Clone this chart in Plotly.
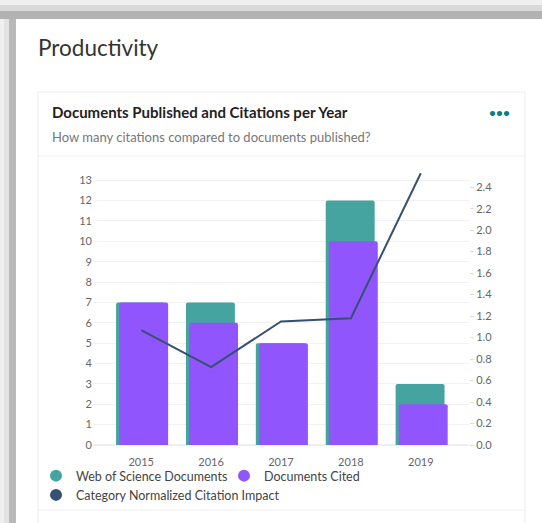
import plotly.graph_objects as go

# ---- data ----
years = ["2015", "2016", "2017", "2018", "2019"]
wos_documents = [7, 7, 5, 12, 3]
documents_cited = [7, 6, 5, 10, 2]
cnci = [1.07, 0.725, 1.15, 1.18, 2.53]

left_ticks = list(range(0, 14))
right_ticks = [round(i * 0.2, 1) for i in range(13)]

TEAL = "#45a3a0"
PURPLE = "#9155fd"
NAVY = "#34526f"

W, H = 542, 523
ML, MR, MT, MB = 93, 73, 170, 78
PW, PH = W - ML - MR, H - MT - MB


def px(x):
    return (x - ML) / PW


def py(y):
    return (H - MB - y) / PH


FONT = "Lato"

fig = go.Figure()

fig.add_trace(go.Bar(
    x=years, y=wos_documents, name="Web of Science Documents",
    marker=dict(color=TEAL, cornerradius=2, line=dict(width=0)),
    width=0.7, offset=-0.36, showlegend=False, yaxis="y",
))
fig.add_trace(go.Bar(
    x=years, y=documents_cited, name="Documents Cited",
    marker=dict(color=PURPLE, cornerradius=2, line=dict(width=0)),
    width=0.7, offset=-0.315, showlegend=False, yaxis="y",
))
fig.add_trace(go.Scatter(
    x=years, y=cnci, name="Category Normalized Citation Impact",
    mode="lines", line=dict(color=NAVY, width=2), showlegend=False, yaxis="y2",
))

# legend-only entries (circle markers)
for name, col in [("Web of Science Documents", TEAL), ("Documents Cited", PURPLE),
                  ("Category Normalized Citation Impact", NAVY)]:
    fig.add_trace(go.Scatter(
        x=[None], y=[None], name=name, mode="markers",
        marker=dict(color=col, size=11, symbol="circle"), yaxis="y",
    ))

shapes = []
# outer gray frame (shadow)
for (x0, x1, c) in [(0, 4, "#efefef"), (4, 9, "#e3e3e3"), (9, 16, "#b9b9b9")]:
    shapes.append(dict(type="rect", xref="paper", yref="paper", x0=px(x0), x1=px(x1),
                       y0=py(H), y1=py(0), fillcolor=c, line=dict(width=0), layer="below"))
for (y0, y1, c) in [(0, 5, "#efefef"), (5, 11, "#d9d9d9"), (11, 19, "#b2b2b2")]:
    shapes.append(dict(type="rect", xref="paper", yref="paper", x0=px(0), x1=px(W),
                       y0=py(y1), y1=py(y0), fillcolor=c, line=dict(width=0), layer="below"))
# card
shapes.append(dict(type="rect", xref="paper", yref="paper", x0=px(38), x1=px(525),
                   y0=py(H + 5), y1=py(92), fillcolor="white",
                   line=dict(color="#ebebeb", width=1), layer="below"))
# header separator & bottom separator
for yy in (156, 510):
    shapes.append(dict(type="line", xref="paper", yref="paper", x0=px(38), x1=px(525),
                       y0=py(yy), y1=py(yy), line=dict(color="#eeeeee", width=1), layer="below"))

annotations = [
    dict(text="Productivity", xref="paper", yref="paper", x=px(36), y=py(47),
         xanchor="left", yanchor="middle", showarrow=False,
         font=dict(family=FONT, size=22.5, color="#333333")),
    dict(text="<b>Documents Published and Citations per Year</b>", xref="paper", yref="paper",
         x=px(50), y=py(112), xanchor="left", yanchor="middle", showarrow=False,
         font=dict(family=FONT, size=15, color="#222222")),
    dict(text="How many citations compared to documents published?", xref="paper", yref="paper",
         x=px(50), y=py(137), xanchor="left", yanchor="middle", showarrow=False,
         font=dict(family=FONT, size=13, color="#777777")),
    dict(text="<b>•••</b>", xref="paper", yref="paper",
         x=px(499), y=py(112), xanchor="center", yanchor="middle", showarrow=False,
         font=dict(family=FONT, size=12, color="#0b7d7a")),
]

fig.update_layout(
    width=W, height=H,
    margin=dict(l=ML, r=MR, t=MT, b=MB, pad=0, autoexpand=False),
    paper_bgcolor="white", plot_bgcolor="rgba(0,0,0,0)",
    barmode="overlay",
    font=dict(family=FONT, size=11, color="#666666"),
    xaxis=dict(type="category", range=[-0.69, 4.69], showgrid=False, zeroline=False,
               showline=False, ticks="", ticklabelstandoff=9,
               tickfont=dict(size=11, color="#666666")),
    yaxis=dict(range=[0, 13.5], tickvals=left_ticks, showgrid=True, gridcolor="#f1f1f1",
               gridwidth=1, zeroline=True, zerolinecolor="#eeeeee", showline=False,
               ticks="", tickfont=dict(size=11, color="#666666")),
    yaxis2=dict(range=[0, 2.56], tickvals=right_ticks, tickformat=".1f", overlaying="y",
                side="right", showgrid=False, zeroline=False, showline=False,
                ticks="outside", ticklen=4, tickcolor="#dddddd",
                tickfont=dict(size=11, color="#666666")),
    legend=dict(orientation="h", x=px(36), y=py(461), xanchor="left", yanchor="top",
                entrywidth=143, font=dict(family=FONT, size=12.5, color="#444444"),
                itemsizing="constant", tracegroupgap=0, bgcolor="rgba(0,0,0,0)"),
    shapes=shapes,
    annotations=annotations,
    showlegend=True,
)

fig.write_html("out.html", config={"displayModeBar": False},
               post_script="document.body.style.margin='0';document.body.style.overflow='hidden';")
